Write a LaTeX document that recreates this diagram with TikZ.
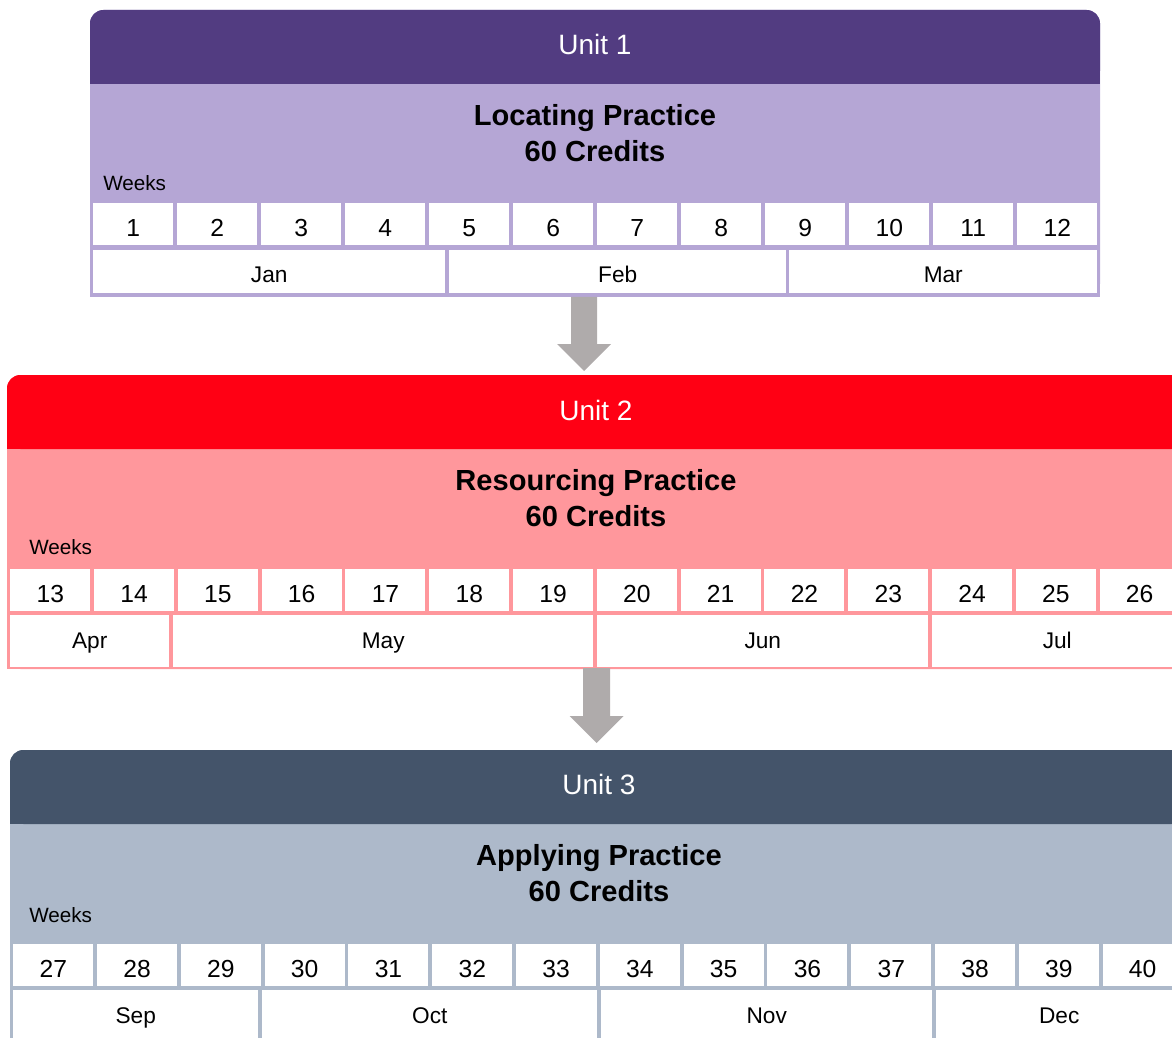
\documentclass[tikz,border=0pt]{standalone}
\usepackage{fontspec}
\setmainfont{Liberation Sans}
\definecolor{onedark}{HTML}{523C81}
\definecolor{onelight}{HTML}{B5A6D5}
\definecolor{twodark}{HTML}{FF0014}
\definecolor{twolight}{HTML}{FF979C}
\definecolor{threedark}{HTML}{44546A}
\definecolor{threelight}{HTML}{ADB9CA}
\definecolor{arrowgray}{HTML}{AFABAB}
\tikzset{
  unithead/.style={text=white, inner sep=0pt, font=\fontsize{21}{25}\selectfont},
  unittitle/.style={align=center, inner sep=0pt, font=\fontsize{21.8}{27}\selectfont\bfseries},
  weekslabel/.style={anchor=west, inner sep=0pt, font=\fontsize{15.5}{18}\selectfont},
  weekcell/.style={anchor=north west, fill=white, inner sep=0pt, minimum width=60pt,
    minimum height=31.5pt, text height=17.75pt, text depth=0pt,
    font=\fontsize{18.5}{22}\selectfont},
  monthcell/.style={anchor=north west, fill=white, inner sep=0pt, minimum height=32.25pt,
    text height=15.5pt, text depth=0pt, font=\fontsize{17}{20}\selectfont},
  monthtall/.style={monthcell, minimum height=39pt, text height=10.5pt},
}
\begin{document}
\begin{tikzpicture}[x=0.75pt,y=-0.75pt]
  \useasboundingbox (0,0) rectangle (1172,1038);
  \clip (0,0) rectangle (1172,1038);

  % Unit 1
  \fill[onelight, rounded corners=10] (90,10) rectangle (1100,297);
  \fill[onelight] (90,50) rectangle (1100,297);
  \fill[onedark, rounded corners=10] (90,10) rectangle (1100,84);
  \fill[onedark] (90,50) rectangle (1100,84);
  \node[unithead] (head1) at (595,44) {Unit 1};
  \node[unittitle] (title1) at (595,133) {Locating Practice\\60 Credits};
  \node[weekslabel] (weeks1) at (103,183) {Weeks};
  \foreach \n [count=\i from 0] in {1,...,12}
    \node[weekcell] (w\n) at ({93+84*\i},203) {\n};
  \node[monthcell, minimum width=264pt] (jan) at (93,250) {Jan};
  \node[monthcell, minimum width=252.75pt] (feb) at (449,250) {Feb};
  \node[monthcell, minimum width=231pt] (mar) at (789,250) {Mar};

  % Unit 2
  \fill[twolight, rounded corners=10] (7,375) rectangle (1185,669);
  \fill[twolight] (7,415) rectangle (1185,669);
  \fill[twodark, rounded corners=10] (7,375) rectangle (1185,449);
  \fill[twodark] (7,415) rectangle (1185,449);
  \node[unithead] (head2) at (596,410) {Unit 2};
  \node[unittitle] (title2) at (596,498) {Resourcing Practice\\60 Credits};
  \node[weekslabel] (weeks2) at (29,547) {Weeks};
  \foreach \n [count=\i from 0] in {13,...,26}
    \node[weekcell] (w\n) at ({10+83.8*\i},569) {\n};
  \node[monthtall, minimum width=119.25pt] (apr) at (10,615) {Apr};
  \node[monthtall, minimum width=315pt] (may) at (173,615) {May};
  \node[monthtall, minimum width=248.25pt] (jun) at (597,615) {Jun};
  \node[monthtall, minimum width=187.5pt] (jul) at (932,615) {Jul};

  % Unit 3
  \fill[threelight, rounded corners=10] (10,750) rectangle (1185,1060);
  \fill[threedark, rounded corners=10] (10,750) rectangle (1185,824);
  \fill[threedark] (10,790) rectangle (1185,824);
  \node[unithead] (head3) at (599,784) {Unit 3};
  \node[unittitle] (title3) at (599,873) {Applying Practice\\60 Credits};
  \node[weekslabel] (weeks3) at (29,915) {Weeks};
  \foreach \n [count=\i from 0] in {27,...,40}
    \node[weekcell] (w\n) at ({13+83.8*\i},944) {\n};
  \node[monthtall, minimum width=183.75pt] (sep) at (13,990) {Sep};
  \node[monthtall, minimum width=251.25pt] (oct) at (262,990) {Oct};
  \node[monthtall, minimum width=248.25pt] (nov) at (601,990) {Nov};
  \node[monthtall, minimum width=184.5pt] (dec) at (936,990) {Dec};

  % arrows between units
  \coordinate (u1bot) at (584,297);
  \coordinate (u2top) at (584,371);
  \coordinate (u2bot) at (596.5,668);
  \coordinate (u3top) at (596.5,743);
  \fill[arrowgray] (u1bot) ++(-13,0) -- ++(26,0) -- ++(0,47) -- ++(14,0) -- (u2top)
    -- ++(-27,-27) -- ++(14,0) -- cycle;
  \fill[arrowgray] (u2bot) ++(-13.5,0) -- ++(27,0) -- ++(0,48) -- ++(13.5,0) -- (u3top)
    -- ++(-27,-27) -- ++(13.5,0) -- cycle;
\end{tikzpicture}
\end{document}
